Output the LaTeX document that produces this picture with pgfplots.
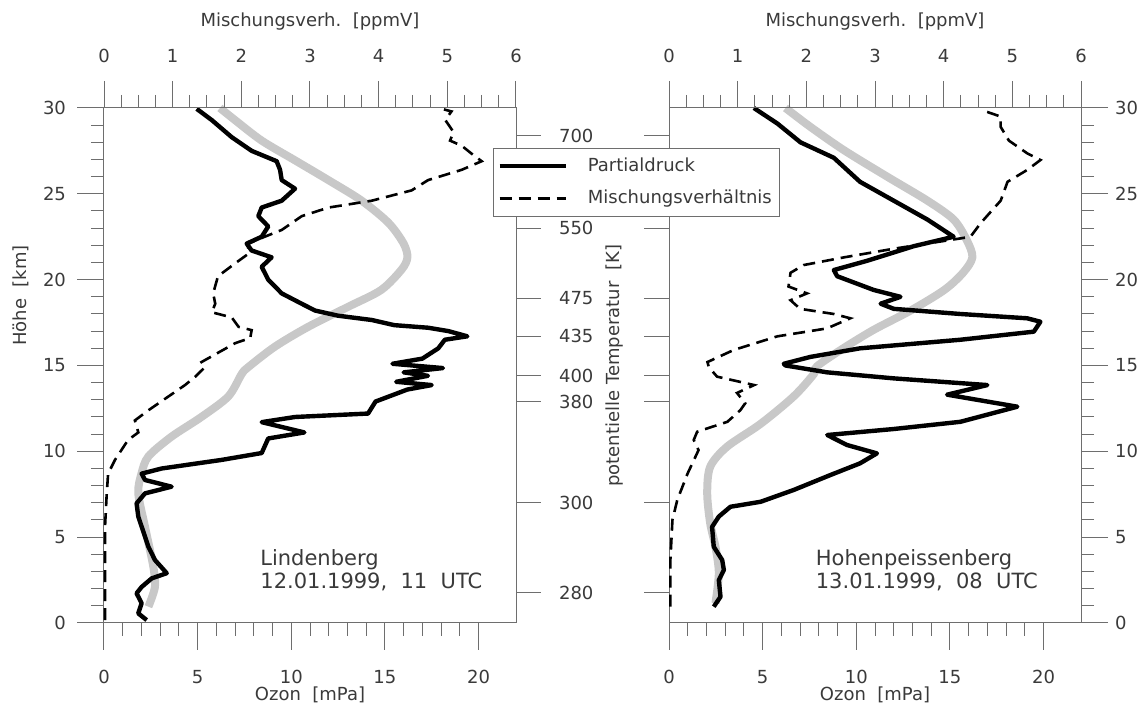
\documentclass[border=0pt]{standalone}
\usepackage{pgfplots}
\pgfplotsset{compat=1.18}
\usepackage{fontspec}
\setmainfont{DejaVu Sans}
\definecolor{txt}{HTML}{3A3A3A}
\definecolor{axc}{HTML}{6E6E6E}
\definecolor{clim}{HTML}{C8C8C8}
\pgfplotsset{
  common/.style={
    scale only axis, width=206pt, height=257.5pt, anchor=south west,
    ymin=0, ymax=30,
    axis line style={axc, line width=0.5pt},
    every tick/.style={axc, line width=0.5pt},
    tick align=outside,
    major tick length=13.5pt, minor tick length=6.5pt,
    /pgf/number format/assume math mode=true,
    tick label style={font=\fontsize{9}{10}\selectfont, text=txt},
    label style={font=\fontsize{9}{10}\selectfont, text=txt},
    clip=false,
  },
  bottompanel/.style={
    common,
    xmin=0, xmax=22,
    xtick={0,5,...,20}, minor x tick num=4,
    ytick={0,5,...,30}, minor y tick num=4,
    xtick pos=bottom,
    xticklabel style={yshift=-6.5pt},
    xlabel={Ozon\ \ [mPa]},
    xlabel style={yshift=5.5pt},
  },
  toppanel/.style={
    common,
    xmin=0, xmax=6,
    axis x line*=top, axis y line=none,
    xtick={0,...,6}, minor x tick num=3,
    xticklabel style={yshift=5.5pt},
    xlabel={Mischungsverh.\ \ [ppmV]},
    xlabel style={yshift=2.5pt},
  },
  solidline/.style={black, line width=2.2pt, line join=round},
  dashline/.style={black, line width=1.3pt, dash pattern=on 6pt off 3.5pt},
  climline/.style={clim, line width=4pt, smooth, tension=0.5},
}

\pgfplotstableread{
x y
2.28 0.17
1.83 0.56
2.01 1.15
1.74 1.73
2.01 2.1
2.55 2.6
3.35 2.9
2.72 3.67
2.37 4.44
1.83 6.2
1.74 6.97
2.19 7.55
3.61 7.94
2.19 8.33
2.01 8.7
3.08 9.0
6.28 9.5
8.42 9.9
8.77 10.75
10.7 11.1
8.42 11.7
10.2 12.0
14.1 12.2
14.5 12.9
16.2 13.6
17.5 13.86
15.6 14.05
17.3 14.4
16.0 14.6
18.1 14.85
15.4 15.1
17.0 15.4
17.85 16.0
18.2 16.5
19.4 16.7
18.4 17.0
17.3 17.2
15.5 17.35
14.3 17.65
12.5 17.9
11.27 18.2
10.55 18.6
9.49 19.2
8.77 20.0
8.42 20.75
8.95 21.3
7.88 21.7
7.62 22.1
8.42 22.5
8.77 23.1
8.24 23.7
8.42 24.2
9.49 24.6
10.2 25.3
9.49 25.8
9.4 26.4
9.22 26.9
7.89 27.5
6.82 28.3
5.75 29.3
4.95 29.95
}\LindPart

\pgfplotstableread{
x y
0.015 0.17
0.015 5.6
0.04 7.55
0.06 8.7
0.16 9.5
0.35 10.66
0.5 11.1
0.45 11.8
0.65 12.4
0.94 13.2
1.18 13.86
1.33 14.35
1.47 14.9
1.42 15.2
1.91 16.3
2.13 16.6
2.15 17.06
1.96 17.25
1.86 17.8
1.57 18.1
1.62 18.6
1.59 19.2
1.66 20.2
1.91 20.95
2.1 21.5
2.1 22.1
2.34 22.5
2.59 22.9
2.88 23.7
3.27 24.2
3.9 24.6
4.48 25.2
4.72 25.8
5.21 26.4
5.5 26.9
5.35 27.35
5.21 27.8
5.04 28.1
5.09 28.6
4.97 29.3
5.06 29.8
4.92 29.95
}\LindMix

\pgfplotstableread{
x y
2.37 0.95
2.72 2.1
2.63 3.3
2.19 5.6
1.83 7.55
2.0 8.7
2.37 9.7
3.6 10.85
5.2 12.0
6.64 13.2
7.35 14.5
7.7 14.9
9.13 16.1
10.9 17.25
13.0 18.4
14.8 19.4
15.9 20.6
16.2 21.3
16.0 22.1
15.2 23.3
13.76 24.6
11.98 25.8
10.2 26.95
8.42 28.1
6.99 29.3
6.19 30
}\LindClim

\pgfplotstableread{
x y
2.39 0.95
2.75 1.53
2.66 2.5
2.93 3.09
2.84 3.67
2.39 4.44
2.3 5.6
2.66 6.2
3.28 6.77
4.89 7.06
6.66 7.75
8.62 8.62
10.2 9.3
11.1 9.88
9.5 10.37
8.45 10.95
12.0 11.3
15.56 11.72
18.6 12.6
14.85 13.3
17.0 13.86
12.0 14.25
8.45 14.6
6.22 15.0
6.13 15.1
7.55 15.5
10.2 16.0
15.56 16.5
19.48 16.97
19.83 17.55
19.12 17.75
15.56 18.0
12.0 18.3
11.3 18.6
12.36 19.0
10.93 19.4
8.98 20.2
8.8 20.56
10.58 21.1
13.07 21.95
15.2 22.5
13.8 23.5
12.0 24.6
10.2 25.7
8.8 27.1
7.02 28.0
5.78 29.1
4.53 30
}\HohPart

\pgfplotstableread{
x y
0.02 0.95
0.02 3.67
0.05 6.0
0.12 7.16
0.27 8.7
0.43 10.07
0.36 10.66
0.41 11.14
0.85 11.72
1.04 12.4
1.11 12.8
0.99 13.4
1.24 13.86
0.7 14.35
0.58 14.9
0.56 15.2
0.94 15.9
1.58 16.7
2.3 17.16
2.64 17.75
2.4 18.0
1.91 18.3
1.77 18.8
2.01 19.2
1.74 19.6
1.77 20.4
1.96 20.85
2.55 21.3
3.27 21.8
4.24 22.4
4.39 22.5
4.54 23.3
4.83 24.6
4.93 25.7
5.22 26.4
5.41 26.97
5.22 27.35
4.95 28.1
4.83 28.9
4.83 29.5
4.54 29.9
}\HohMix

\pgfplotstableread{
x y
2.48 1.15
2.66 2.9
2.48 4.44
2.2 5.8
2.04 7.55
2.2 9.1
3.1 10.27
4.89 11.6
6.66 13.2
7.73 14.5
7.9 14.95
9.16 15.9
10.9 17.06
12.9 18.2
14.7 19.4
15.7 20.4
16.2 21.3
15.9 22.3
15.2 23.5
13.8 24.6
11.65 26.0
9.33 27.55
7.55 28.9
6.22 30
}\HohClim

\begin{document}
\begin{tikzpicture}
\useasboundingbox (0,0) rectangle (569.5pt,352pt);

% ---------- left panel ----------
\begin{axis}[bottompanel, at={(52pt,40.5pt)},
  ytick pos=left,
  yticklabel style={xshift=-2pt},
  ylabel={H\"ohe\ \ [km]},
  ylabel style={at={(ticklabel cs:0.64)}, xshift=-1pt},
]
\addplot[climline] table {\LindClim};
\addplot[solidline] table {\LindPart};
\node[anchor=north west, inner sep=0pt, align=left, text=txt,
  font=\fontsize{10.5}{11.5}\selectfont] at (axis cs:8.33,4.31)
  {Lindenberg\\12.01.1999,\ \ 11\ \ UTC};
\end{axis}
\begin{axis}[toppanel, at={(52pt,40.5pt)}]
\addplot[dashline] table {\LindMix};
\end{axis}

% ---------- middle potential temperature scale ----------
\begin{axis}[at={(258pt,40.5pt)}, anchor=south west, scale only axis,
  width=76.5pt, height=257.5pt, xmin=0, xmax=1, ymin=0, ymax=30,
  hide x axis,
  axis line style={axc, line width=0.5pt},
  every tick/.style={axc, line width=0.5pt},
  tick align=inside, major tick length=12.5pt,
  ytick pos=both,
  ytick={1.75,7.0,12.9,14.4,16.7,18.9,23.0,28.4},
  yticklabels={280,300,380,400,435,475,550,700},
  yticklabel style={anchor=west, xshift=18pt, font=\fontsize{9}{10}\selectfont, text=txt},
  ylabel={potentielle Temperatur\ \ [K]},
  ylabel style={at={(rel axis cs:0.647,0.5)}, anchor=center,
    font=\fontsize{9}{10}\selectfont, text=txt},
]
\end{axis}

% ---------- right panel ----------
\begin{axis}[bottompanel, at={(334.5pt,40.5pt)},
  ytick pos=right, yticklabel pos=right,
]
\addplot[climline] table {\HohClim};
\addplot[solidline] table {\HohPart};
\node[anchor=north west, inner sep=0pt, align=left, text=txt,
  font=\fontsize{10.5}{11.5}\selectfont] at (axis cs:7.82,4.31)
  {Hohenpeissenberg\\13.01.1999,\ \ 08\ \ UTC};
\end{axis}
\begin{axis}[toppanel, at={(334.5pt,40.5pt)},
  legend style={at={(-0.427,0.922)}, anchor=north west, draw=axc, fill=white,
    font=\fontsize{9}{10}\selectfont, text=txt, inner xsep=2pt, inner ysep=2.5pt,
    row sep=4pt},
  legend cell align=left,
  legend image code/.code={\draw[#1] (0pt,0pt) -- (33pt,0pt); \path (41pt,0pt);},
]
\addplot[dashline, forget plot] table {\HohMix};
\addlegendimage{solidline}
\addlegendentry{Partialdruck}
\addlegendimage{dashline}
\addlegendentry{Mischungsverh\"altnis}
\end{axis}
\end{tikzpicture}
\end{document}
